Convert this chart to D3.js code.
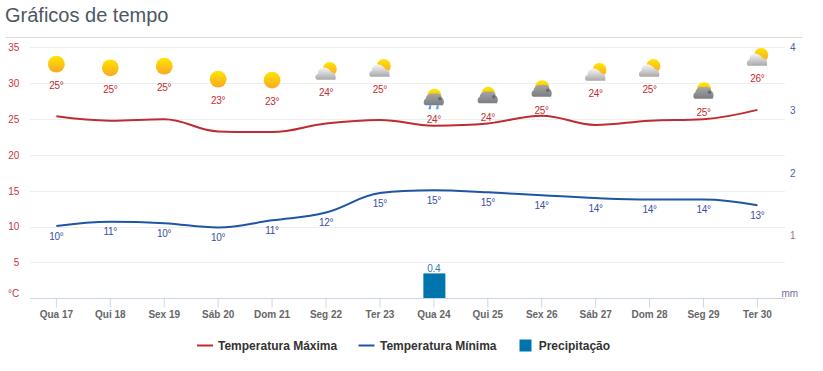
<!DOCTYPE html>
<html>
<head>
<meta charset="utf-8">
<title>Gráficos de tempo</title>
<script src="https://cdnjs.cloudflare.com/ajax/libs/d3/7.8.5/d3.min.js"></script>
<style>
    body { margin: 0; background: white; font-family: "Liberation Sans", Arial, sans-serif; }
    svg { display: block; }
    .title { font-size: 20px; fill: #4d5762; }
    .tick-left text { font-size: 10px; fill: #c8363c; }
    .tick-right text { font-size: 10px; fill: #3f66b5; }
    .cat text { font-size: 10px; font-weight: bold; fill: #666; }
    .max-label { font-size: 10px; letter-spacing: -0.3px; fill: #c42c30; text-anchor: middle; }
    .min-label { font-size: 10px; letter-spacing: -0.3px; fill: #3a4fa5; text-anchor: middle; }
    .rain-label { font-size: 10px; letter-spacing: -0.3px; fill: #2a7ab0; text-anchor: middle; }
    .legend text { font-size: 12px; font-weight: bold; fill: #333; }
</style>
</head>
<body>
<div id="chart"></div>
<script>
// Data
const days = ['Qua 17', 'Qui 18', 'Sex 19', 'Sáb 20', 'Dom 21', 'Seg 22', 'Ter 23', 'Qua 24', 'Qui 25', 'Sex 26', 'Sáb 27', 'Dom 28', 'Seg 29', 'Ter 30'];
const tempMax = [25.4, 24.8, 25.0, 23.3, 23.2, 24.4, 24.9, 24.1, 24.4, 25.5, 24.2, 24.8, 25.0, 26.3];
const tempMin = [10.1, 10.7, 10.5, 9.9, 10.9, 12.0, 14.7, 15.1, 14.8, 14.4, 14.0, 13.8, 13.8, 13.0];
const precip = [0, 0, 0, 0, 0, 0, 0, 0.4, 0, 0, 0, 0, 0, 0];
const maxLabels = [25, 25, 25, 23, 23, 24, 25, 24, 24, 25, 24, 25, 25, 26];
const minLabels = [10, 11, 10, 10, 11, 12, 15, 15, 15, 14, 14, 14, 14, 13];
const icons = ['sun', 'sun', 'sun', 'sun', 'sun', 'partly', 'partly', 'rain', 'cloudy', 'cloudy', 'partly', 'partly', 'cloudy', 'partly'];
// icon height read on the temperature axis
const iconLevel = [32.67, 32.17, 32.39, 30.58, 30.45, 31.7, 32.12, 27.99, 28.26, 29.18, 31.56, 32.12, 28.9, 33.65];
const leftTicks = [0, 5, 10, 15, 20, 25, 30, 35];
const rightTicks = [1, 2, 3, 4];

const width = 823, height = 371;
const plot = { left: 30, right: 785, top: 47.5, bottom: 298.5 };

const svg = d3.select('#chart').append('svg')
    .attr('width', width)
    .attr('height', height);

// Scales
const x = d3.scaleBand().domain(days).range([plot.left - 0.6, plot.right - 0.6]);
const y = d3.scaleLinear().domain([0, 35]).range([plot.bottom, plot.top]);
const yRain = d3.scaleLinear().domain([0, 4]).range([plot.bottom, plot.top]);
const cx = d => x(d) + x.bandwidth() / 2;

// Gradients for the weather icons
const defs = svg.append('defs');
function gradient(id, top, bottom) {
    const g = defs.append('linearGradient').attr('id', id).attr('x1', 0).attr('y1', 0).attr('x2', 0).attr('y2', 1);
    g.append('stop').attr('offset', '0%').attr('stop-color', top);
    g.append('stop').attr('offset', '100%').attr('stop-color', bottom);
}
gradient('sunFill', '#ffe600', '#f8a725');
gradient('cloudLight', '#f6f6f6', '#a9a9a9');
gradient('cloudDark', '#a6a6a6', '#7c7d81');

// Title
svg.append('text').attr('class', 'title').attr('x', 5).attr('y', 22).text('Gráficos de tempo');
svg.append('line').attr('x1', 5).attr('x2', 803).attr('y1', 37.5).attr('y2', 37.5).attr('stroke', '#ddd');

// Grid
svg.append('g').selectAll('line').data(leftTicks.slice(1)).enter().append('line')
    .attr('x1', plot.left).attr('x2', plot.right)
    .attr('y1', d => Math.floor(y(d) + 0.3) + 0.5).attr('y2', d => Math.floor(y(d) + 0.3) + 0.5)
    .attr('stroke', '#eeeeee');

// Axes
const leftAxis = svg.append('g').attr('class', 'tick-left')
    .attr('transform', `translate(${plot.left},0)`)
    .call(d3.axisLeft(y).tickValues(leftTicks).tickSize(0).tickPadding(10.7).tickFormat(d => d === 0 ? '°C' : d));
leftAxis.select('.domain').remove();
leftAxis.selectAll('text').style('font-family', 'inherit')
    .attr('dy', d => d === 0 ? '-0.18em' : '0.32em');

const rightAxis = svg.append('g').attr('class', 'tick-right')
    .attr('transform', `translate(${plot.right},0)`)
    .call(d3.axisRight(yRain).tickValues(rightTicks).tickSize(0).tickPadding(5).tickFormat(d3.format('d')));
rightAxis.select('.domain').remove();
rightAxis.selectAll('text').style('font-family', 'inherit')
    .style('fill', d => d === 1 ? '#a4708f' : null);

const bottomAxis = svg.append('g').attr('class', 'cat')
    .attr('transform', `translate(0,${plot.bottom})`)
    .call(d3.axisBottom(x).tickSize(9).tickPadding(3));
bottomAxis.selectAll('line').attr('stroke', '#ccd6eb');
bottomAxis.selectAll('text').style('font-family', 'inherit');
bottomAxis.select('.domain').remove();
bottomAxis.append('line').attr('x1', plot.left).attr('x2', plot.right).attr('stroke', '#ccd6eb');

svg.append('text').attr('x', 781.5).attr('y', 297).attr('font-size', 10).attr('fill', '#7a6aa8').text('mm');

// Precipitation
const rainDays = days.filter((d, i) => precip[i] > 0);
svg.append('g').selectAll('rect').data(rainDays).enter().append('rect')
    .attr('x', d => cx(d) - 10.5)
    .attr('width', 22)
    .attr('y', d => yRain(precip[days.indexOf(d)]))
    .attr('height', d => plot.bottom - yRain(precip[days.indexOf(d)]) - 0.5)
    .attr('fill', '#0075ad');
svg.append('g').selectAll('text').data(rainDays).enter().append('text')
    .attr('class', 'rain-label')
    .attr('x', cx)
    .attr('y', d => yRain(precip[days.indexOf(d)]) - 1)
    .text(d => precip[days.indexOf(d)]);

// Smooth line, control points limited so it never overshoots a point
function splinePath(values) {
    const pts = values.map((v, i) => [cx(days[i]), y(v)]);
    const ctrl = pts.map((p, i) => {
        if (i === 0 || i === pts.length - 1) return { inY: p[1], outY: p[1] };
        const last = pts[i - 1], next = pts[i + 1];
        let inY = p[1] - 0.2 * (next[1] - last[1]);
        let outY = 2 * p[1] - inY;
        if ((inY > last[1] && inY > p[1]) || (inY < last[1] && inY < p[1])) {
            inY = inY > p[1] ? Math.max(last[1], p[1]) : Math.min(last[1], p[1]);
            outY = 2 * p[1] - inY;
        }
        if ((outY > next[1] && outY > p[1]) || (outY < next[1] && outY < p[1])) {
            outY = outY > p[1] ? Math.max(next[1], p[1]) : Math.min(next[1], p[1]);
            inY = 2 * p[1] - outY;
        }
        return { inY, outY };
    });
    const path = d3.path();
    path.moveTo(pts[0][0], pts[0][1]);
    for (let i = 1; i < pts.length; i++) {
        const dx = pts[i][0] - pts[i - 1][0];
        path.bezierCurveTo(
            pts[i - 1][0] + (i === 1 ? 0 : 0.4 * dx), ctrl[i - 1].outY,
            pts[i][0] - (i === pts.length - 1 ? 0 : 0.4 * dx), ctrl[i].inY,
            pts[i][0], pts[i][1]);
    }
    return path.toString();
}
svg.append('path').attr('d', splinePath(tempMax)).attr('fill', 'none').attr('stroke', '#bf2b30').attr('stroke-width', 2);
svg.append('path').attr('d', splinePath(tempMin)).attr('fill', 'none').attr('stroke', '#1f55a5').attr('stroke-width', 2);

// Min labels
svg.append('g').selectAll('text').data(minLabels).enter().append('text')
    .attr('class', 'min-label')
    .attr('x', (d, i) => cx(days[i]))
    .attr('y', (d, i) => y(tempMin[i]) + 13.5)
    .text(d => d + '°');

// Weather icons
function drawIcon(g, type) {
    if (type === 'sun') {
        g.append('circle').attr('r', 8.4).attr('fill', 'url(#sunFill)');
        return;
    }
    if (type === 'partly') {
        g.append('circle').attr('cx', 3.8).attr('cy', -2.2).attr('r', 7).attr('fill', 'url(#sunFill)');
        g.append('path').attr('d', 'M-9,8.5 C-11.5,8 -11,3 -8,2.5 C-8,-1 -6,-3.5 -3,-3.5 C1,-4 4,-1 5.5,1 C8.5,1 10.5,4 9.5,8.5 Z')
            .attr('fill', 'url(#cloudLight)');
        return;
    }
    g.append('circle').attr('cx', 0.5).attr('cy', -2).attr('r', 7).attr('fill', 'url(#sunFill)');
    g.append('path').attr('d', 'M-8.5,7.5 C-11,6.5 -10.5,2 -8,1 C-8,-3 -3,-5 0,-4 C3,-5.5 7.5,-4 8,0 C10.5,1 10.5,6 9,7.5 Z')
        .attr('fill', 'url(#cloudDark)');
    g.append('circle').attr('cx', 6).attr('cy', 1).attr('r', 1.8).attr('fill', '#666a70');
    if (type === 'rain') {
        g.selectAll('.drop').data([-4, 3.5]).enter().append('path')
            .attr('d', d => `M${d + 1.5},7.5 L${d + 1},11.5 L${d - 1.5},11.5 L${d - 0.5},7.5 Z`)
            .attr('fill', '#4ba3ec');
    }
}
const iconGroups = svg.append('g').selectAll('g').data(days).enter().append('g')
    .attr('transform', (d, i) => `translate(${cx(d)},${y(iconLevel[i])})`);
iconGroups.each(function(d, i) { drawIcon(d3.select(this), icons[i]); });

// Max labels, under the icons
svg.append('g').selectAll('text').data(maxLabels).enter().append('text')
    .attr('class', 'max-label')
    .attr('x', (d, i) => cx(days[i]))
    .attr('y', (d, i) => y(iconLevel[i]) + 25)
    .text(d => d + '°');

// Legend
const legendItems = [
    { name: 'Temperatura Máxima', color: '#bf2b30', type: 'line', at: 197, textAt: 218 },
    { name: 'Temperatura Mínima', color: '#1f55a5', type: 'line', at: 358.5, textAt: 380 },
    { name: 'Precipitação', color: '#0075ad', type: 'rect', at: 519.5, textAt: 538.7 }
];
const legend = svg.append('g').attr('class', 'legend').attr('transform', 'translate(0,345.5)');
legendItems.forEach(item => {
    if (item.type === 'line') {
        legend.append('line').attr('x1', item.at).attr('x2', item.at + 16).attr('stroke', item.color).attr('stroke-width', 2);
    } else {
        legend.append('rect').attr('x', item.at).attr('y', -6).attr('width', 12).attr('height', 12).attr('fill', item.color);
    }
    legend.append('text').attr('x', item.textAt).attr('y', 4.5).text(item.name);
});
</script>
</body>
</html>
